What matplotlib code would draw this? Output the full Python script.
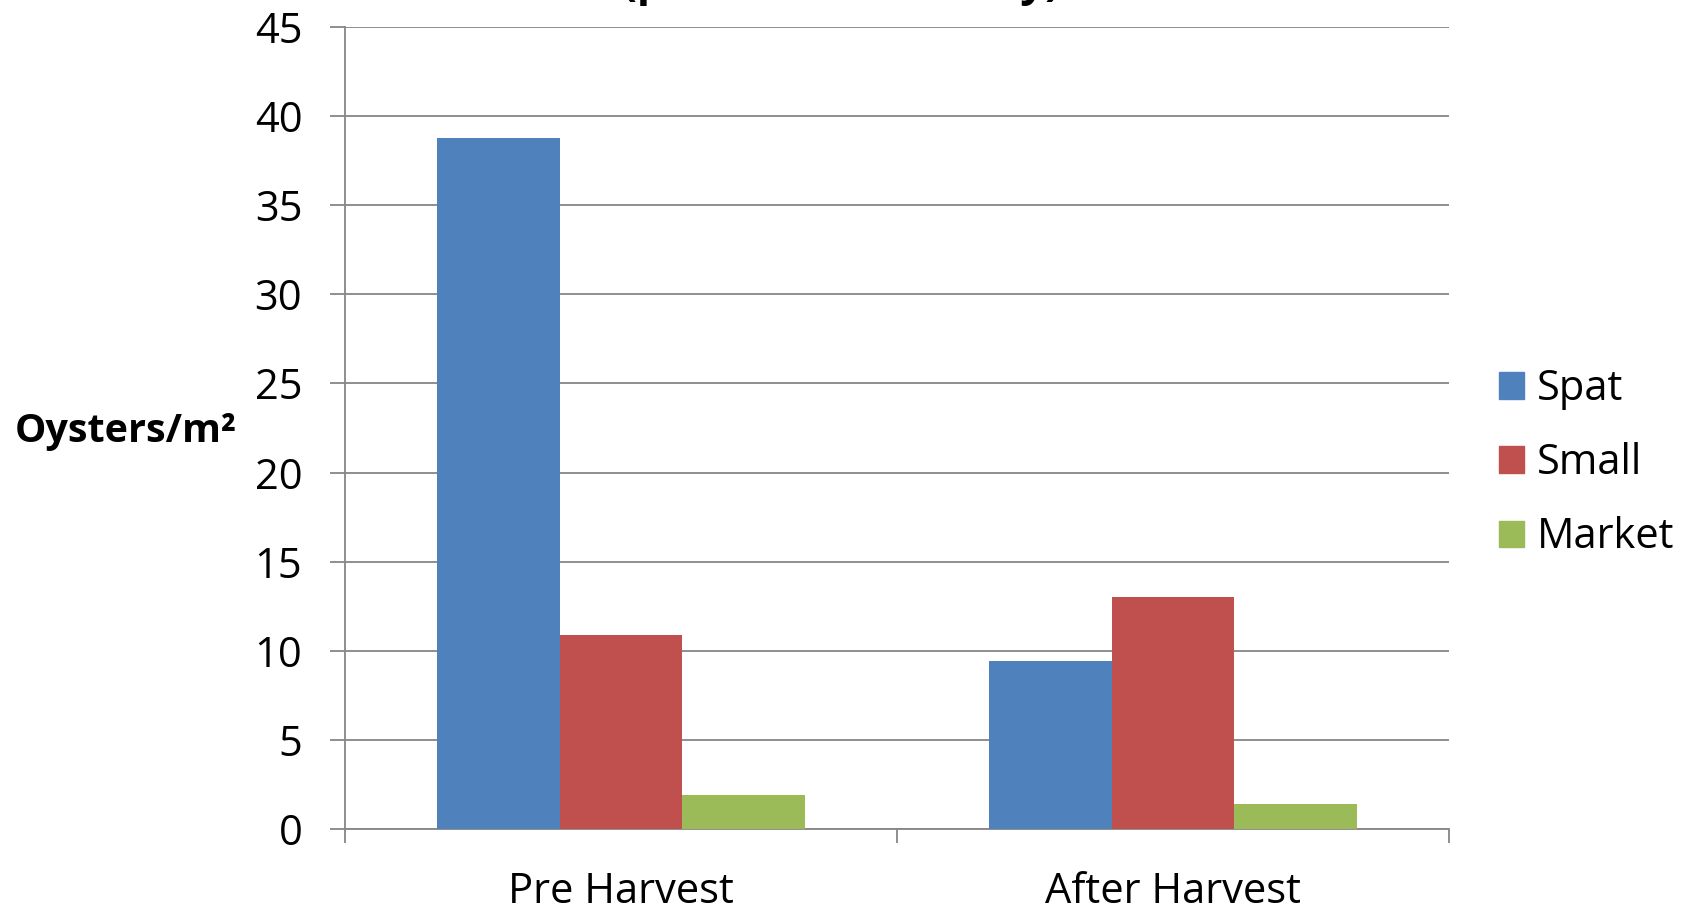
import numpy as np
import matplotlib
matplotlib.use("Agg")
import matplotlib.pyplot as plt
from matplotlib.patches import Patch

plt.rcParams["font.family"] = ["Open Sans", "DejaVu Sans"]

# data
categories = ["Pre Harvest", "After Harvest"]
series_names = ["Spat", "Small", "Market"]
spat = [38.8, 9.4]
small = [10.9, 13.0]
market = [1.9, 1.4]
series_values = [spat, small, market]
colors = ["#4F81BD", "#C0504D", "#9BBB59"]
yticks = [0, 5, 10, 15, 20, 25, 30, 35, 40, 45]
title_text = "(pre harvest survey)"

grid_col = "#868686"
fs = 30

fig = plt.figure(figsize=(16.98, 9.10), dpi=100)
ax = fig.add_axes([0.2032, 0.0890, 0.6502, 0.8813])

x = np.arange(len(categories))
width = 1 / 4.5
for i, (name, vals) in enumerate(zip(series_names, series_values)):
    ax.bar(x + (i - 1) * width, vals, width, color=colors[i], label=name, zorder=3)

ax.set_xlim(-0.5, len(categories) - 0.5)
ax.set_ylim(0, 45)
ax.set_yticks(yticks)
ax.yaxis.grid(True, color=grid_col, lw=1.3, zorder=0)
ax.tick_params(axis="y", direction="out", length=10.8, width=1.3, color=grid_col,
               labelsize=fs, pad=20)

# category boundary ticks, labels on minor ticks
ax.set_xticks(np.arange(-0.5, len(categories) + 0.5, 1.0))
ax.set_xticklabels([])
ax.set_xticks(x, minor=True)
ax.set_xticklabels(categories, minor=True)
ax.tick_params(axis="x", which="major", direction="out", length=10, width=1.3, color=grid_col)
ax.tick_params(axis="x", which="minor", length=0, labelsize=fs, pad=30)

for s in ["top", "right"]:
    ax.spines[s].set_visible(False)
for s in ["left", "bottom"]:
    ax.spines[s].set_color(grid_col)
    ax.spines[s].set_linewidth(1.3)

fig.text(0.0088, 0.526, "Oysters/m²", fontsize=28.5, fontweight="bold",
         ha="left", va="center")

fig.text(0.4955, 1.006, title_text, fontsize=31.7, fontweight="bold",
         ha="center", va="baseline")

handles = [Patch(color=c) for c in colors]
fig.legend(handles, series_names, loc="center left", bbox_to_anchor=(0.8828, 0.4908),
           frameon=False, fontsize=fs, handlelength=0.6, handleheight=0.6,
           handletextpad=0.3, labelspacing=0.77, borderpad=0, borderaxespad=0)

fig.savefig("out.png", dpi=100)
